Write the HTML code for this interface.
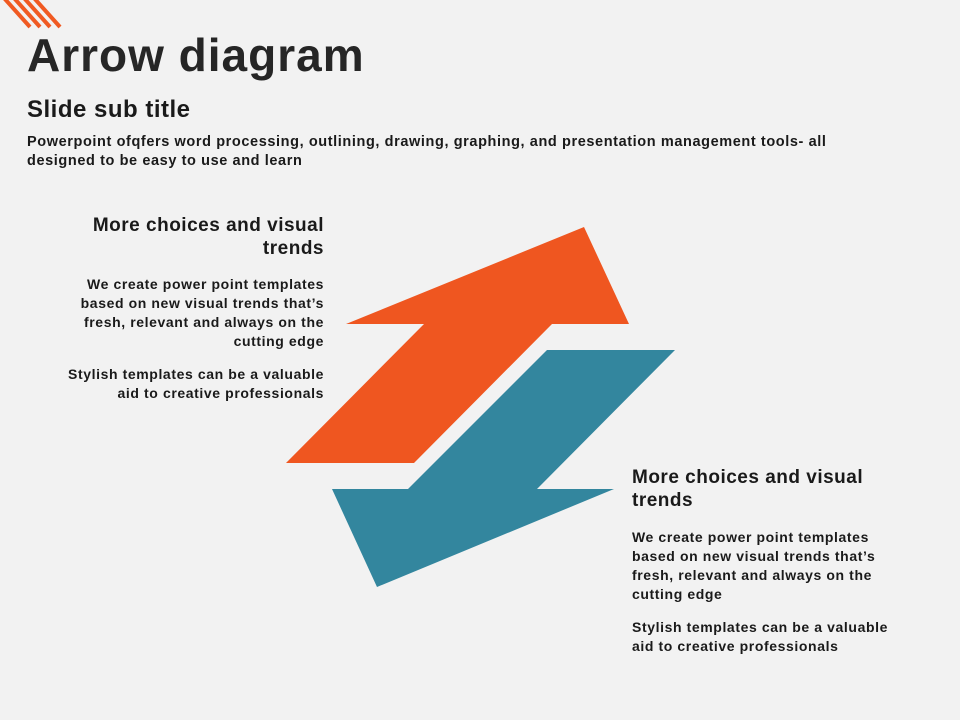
<!DOCTYPE html>
<html><head><style>
body{margin:0;width:960px;height:720px;background:#f2f2f2;font-family:"Liberation Sans",sans-serif;color:#1a1a1a;position:relative;overflow:hidden}
.a{position:absolute;white-space:nowrap}
h1{position:absolute;left:27px;top:28px;margin:0;font-size:46px;font-weight:bold;color:#262626;letter-spacing:1px}
.st{left:27px;top:96px;font-size:24px;font-weight:bold;letter-spacing:0.5px}
.d{left:27px;top:133px;font-size:14.5px;font-weight:bold;line-height:19px;letter-spacing:0.6px}
.h{font-size:19px;font-weight:bold;line-height:23px;letter-spacing:0.5px}
.p{font-size:14px;font-weight:bold;line-height:19px;margin-top:14px;letter-spacing:0.6px}
</style></head><body>
<svg class="a" style="left:0;top:0" width="960" height="720">
<g stroke="#f05a22" stroke-width="4">
<line x1="4" y1="-2" x2="30" y2="27"/>
<line x1="14" y1="-2" x2="40" y2="27"/>
<line x1="24" y1="-2" x2="50" y2="27"/>
<line x1="34" y1="-2" x2="60" y2="27"/>
</g>
<polygon fill="#ef5620" points="286,463 414,463 552,324 629,324 584,227 346,324 424,324"/>
<polygon fill="#33869e" points="547,350 675,350 537,489 614,489 377,587 332,489 408,489"/>
</svg>
<h1>Arrow diagram</h1>
<div class="a st">Slide sub title</div>
<div class="a d">Powerpoint ofqfers word processing, outlining, drawing, graphing, and presentation management tools- all<br>designed to be easy to use and learn</div>
<div class="a" style="right:636px;top:214px;text-align:right">
<div class="h">More choices and visual<br>trends</div>
<div class="p" style="margin-top:15px">We create power point templates<br>based on new visual trends that’s<br>fresh, relevant and always on the<br>cutting edge</div>
<div class="p">Stylish templates can be a valuable<br>aid to creative professionals</div>
</div>
<div class="a" style="left:632px;top:466px">
<div class="h">More choices and visual<br>trends</div>
<div class="p" style="margin-top:16px">We create power point templates<br>based on new visual trends that’s<br>fresh, relevant and always on the<br>cutting edge</div>
<div class="p">Stylish templates can be a valuable<br>aid to creative professionals</div>
</div>
</body></html>
